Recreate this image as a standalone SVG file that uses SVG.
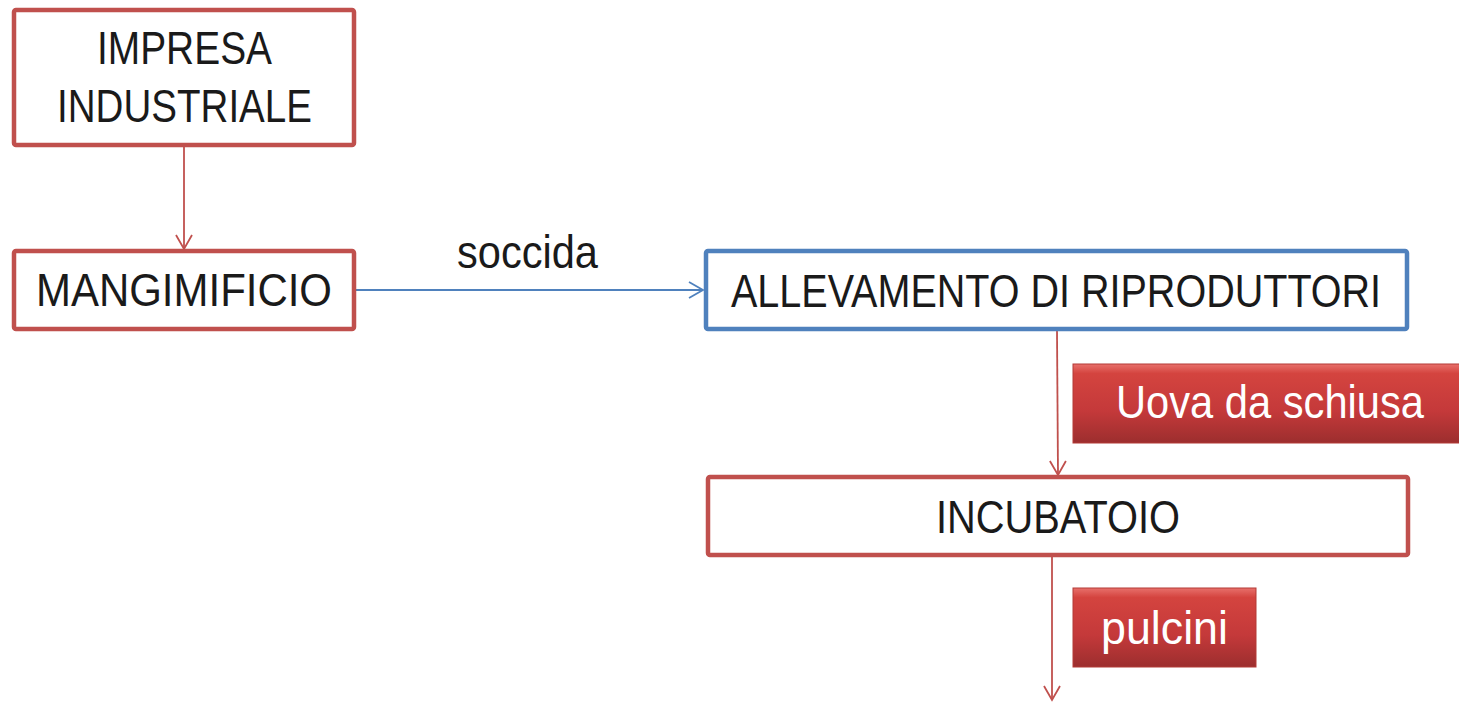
<svg xmlns="http://www.w3.org/2000/svg" width="1459" height="702" viewBox="0 0 1459 702">
<style>
.box{fill:#fff;stroke-width:4.5}
.red{stroke:#C0504D}
.blue{stroke:#4F81BD}
.t{font-family:"Liberation Sans",Arial,sans-serif;font-size:47px;fill:#1a1a1a}
.w{font-family:"Liberation Sans",Arial,sans-serif;font-size:46px;fill:#fff}
.lr{stroke:#C0504D;stroke-width:1.8;fill:none}
.lb{stroke:#4F81BD;stroke-width:1.8;fill:none}
.tag{stroke:#B33A36;stroke-width:1;fill:url(#g)}
</style>
<defs>
<linearGradient id="g" x1="0" y1="0" x2="0" y2="1">
<stop offset="0" stop-color="#E8706B"/>
<stop offset="0.12" stop-color="#D4443F"/>
<stop offset="0.6" stop-color="#C4393A"/>
<stop offset="1" stop-color="#9C2E2E"/>
</linearGradient>
<marker id="ar" markerWidth="20" markerHeight="20" refX="15" refY="10" orient="auto" markerUnits="userSpaceOnUse" viewBox="0 0 20 20">
<path d="M1,2 L15,10 L1,18" fill="none" stroke="#C0504D" stroke-width="1.8"/>
</marker>
<marker id="ab" markerWidth="20" markerHeight="20" refX="15" refY="10" orient="auto" markerUnits="userSpaceOnUse" viewBox="0 0 20 20">
<path d="M1,2 L15,10 L1,18" fill="none" stroke="#4F81BD" stroke-width="1.8"/>
</marker>
</defs>
<g id="connectors">
<line class="lr" x1="184" y1="147" x2="184" y2="249" marker-end="url(#ar)"/>
<line class="lb" x1="356" y1="290" x2="703" y2="290" marker-end="url(#ab)"/>
<line class="lr" x1="1057" y1="331" x2="1058" y2="475" marker-end="url(#ar)"/>
<line class="lr" x1="1052" y1="557" x2="1052" y2="700" marker-end="url(#ar)"/>
</g>
<g id="impresa">
<rect class="box red" x="14" y="10" width="340" height="135" rx="2"/>
<text class="t" x="97" y="64" textLength="175" lengthAdjust="spacingAndGlyphs">IMPRESA</text>
<text class="t" x="57" y="122" textLength="255" lengthAdjust="spacingAndGlyphs">INDUSTRIALE</text>
</g>
<g id="mangimificio">
<rect class="box red" x="14" y="251" width="340" height="78" rx="2"/>
<text class="t" x="36" y="306" textLength="296" lengthAdjust="spacingAndGlyphs">MANGIMIFICIO</text>
</g>
<g id="soccida-label">
<text class="t" x="457" y="268" textLength="141" lengthAdjust="spacingAndGlyphs">soccida</text>
</g>
<g id="allevamento">
<rect class="box blue" x="706" y="251" width="701" height="78" rx="2"/>
<text class="t" transform="translate(731,307) scale(0.825,1)" x="0" y="0" textLength="788" lengthAdjust="spacingAndGlyphs">ALLEVAMENTO DI RIPRODUTTORI</text>
</g>
<g id="uova">
<rect class="tag" x="1073" y="364" width="390" height="79"/>
<text class="w" x="1116" y="418" textLength="308" lengthAdjust="spacingAndGlyphs">Uova da schiusa</text>
</g>
<g id="incubatoio">
<rect class="box red" x="708" y="477" width="700" height="78" rx="2"/>
<text class="t" x="936" y="533" textLength="244" lengthAdjust="spacingAndGlyphs">INCUBATOIO</text>
</g>
<g id="pulcini">
<rect class="tag" x="1073" y="588" width="183" height="79"/>
<text class="w" x="1101" y="644" textLength="127" lengthAdjust="spacingAndGlyphs">pulcini</text>
</g>
</svg>
